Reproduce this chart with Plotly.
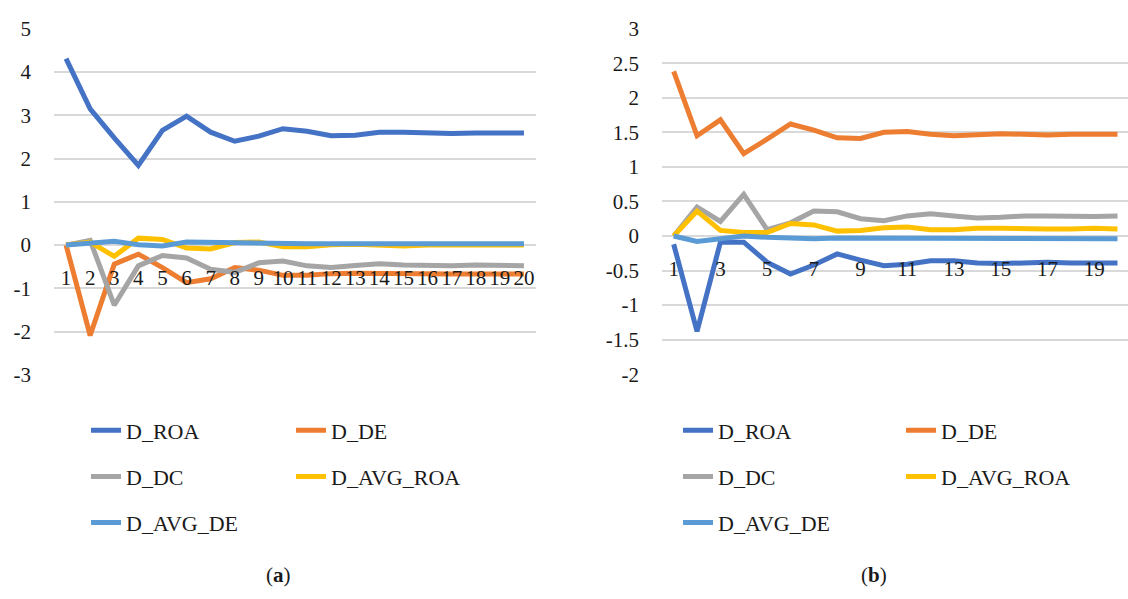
import plotly.graph_objects as go

W, H = 1128, 599

periods = list(range(1, 21))
xlabels_a = [str(p) for p in periods]
xvals_b = [p for p in periods if p % 2 == 1]
xlabels_b = [str(p) for p in xvals_b]

yvals_a = [-3, -2, -1, 0, 1, 2, 3, 4, 5]
ylabels_a = ["-3", "-2", "-1", "0", "1", "2", "3", "4", "5"]
yvals_b = [-2, -1.5, -1, -0.5, 0, 0.5, 1, 1.5, 2, 2.5, 3]
ylabels_b = ["-2", "-1.5", "-1", "-0.5", "0", "0.5", "1", "1.5", "2", "2.5", "3"]

series_names = ["D_ROA", "D_DE", "D_DC", "D_AVG_ROA", "D_AVG_DE"]
colors = ["#4472C4", "#ED7D31", "#A5A5A5", "#FFC000", "#5B9BD5"]

# Panel (a)
a_roa = [4.31, 3.15, 2.48, 1.84, 2.65, 2.98, 2.61, 2.40, 2.52, 2.69,
         2.63, 2.53, 2.54, 2.61, 2.61, 2.59, 2.58, 2.59, 2.60, 2.59]
a_de = [0.0, -2.09, -0.44, -0.21, -0.52, -0.87, -0.78, -0.52, -0.58, -0.70,
        -0.70, -0.66, -0.65, -0.66, -0.67, -0.67, -0.67, -0.67, -0.67, -0.67]
a_dc = [0.0, 0.11, -1.39, -0.48, -0.24, -0.30, -0.56, -0.63, -0.41, -0.37,
        -0.48, -0.52, -0.47, -0.43, -0.46, -0.48, -0.48, -0.46, -0.47, -0.48]
a_avg_roa = [0.0, 0.07, -0.26, 0.16, 0.13, -0.07, -0.09, 0.06, 0.07, -0.04,
             -0.04, 0.01, 0.02, -0.01, -0.02, 0.0, 0.0, 0.0, 0.0, 0.0]
a_avg_de = [0.0, 0.05, 0.09, 0.01, -0.02, 0.07, 0.06, 0.04, 0.04, 0.03,
            0.03, 0.03, 0.03, 0.03, 0.03, 0.03, 0.03, 0.03, 0.03, 0.03]

# Panel (b)
b_roa = [-0.12, -1.38, -0.09, -0.09, -0.38, -0.55, -0.42, -0.26, -0.35, -0.43,
         -0.41, -0.36, -0.36, -0.39, -0.40, -0.39, -0.38, -0.39, -0.39, -0.39]
b_de = [2.38, 1.45, 1.68, 1.19, 1.40, 1.62, 1.53, 1.42, 1.41, 1.50,
        1.51, 1.47, 1.45, 1.47, 1.48, 1.47, 1.46, 1.47, 1.47, 1.47]
b_dc = [0.0, 0.42, 0.21, 0.60, 0.09, 0.19, 0.36, 0.35, 0.25, 0.22,
        0.29, 0.32, 0.29, 0.26, 0.27, 0.29, 0.29, 0.28, 0.28, 0.29]
b_avg_roa = [0.0, 0.36, 0.08, 0.05, 0.05, 0.18, 0.16, 0.07, 0.08, 0.12,
             0.13, 0.09, 0.09, 0.11, 0.11, 0.10, 0.10, 0.10, 0.11, 0.10]
b_avg_de = [0.0, -0.08, -0.04, 0.0, -0.02, -0.03, -0.04, -0.03, -0.03, -0.04,
            -0.04, -0.04, -0.04, -0.04, -0.04, -0.04, -0.04, -0.04, -0.04, -0.04]

panel_a = [a_roa, a_de, a_dc, a_avg_roa, a_avg_de]
panel_b = [b_roa, b_de, b_dc, b_avg_roa, b_avg_de]

legend_rows = [0, 0, 1, 1, 2]

TICK_FONT = dict(family="Liberation Serif", size=21, color="#1a1a1a")
LEG_FONT = dict(family="Liberation Serif", size=22, color="#1a1a1a")

fig = go.Figure()

for i, name in enumerate(series_names):
    fig.add_trace(go.Scatter(
        x=periods, y=panel_a[i], name=name, mode="lines",
        line=dict(color=colors[i], width=5),
        xaxis="x", yaxis="y",
        legend="legend" if legend_rows[i] == 0 else f"legend{legend_rows[i] + 1}",
    ))
for i, name in enumerate(series_names):
    fig.add_trace(go.Scatter(
        x=periods, y=panel_b[i], name=name, mode="lines",
        line=dict(color=colors[i], width=5),
        xaxis="x2", yaxis="y2",
        legend=f"legend{legend_rows[i] + 4}",
    ))

ydom_a = [1 - 378 / H, 1 - 17.5 / H]
ydom_b = [1 - 377.3 / H, 1 - 17.3 / H]
yr_a = [-3, 5]
yr_b = [-2, 3]


def zero_pos(dom, rng):
    return dom[0] + (0 - rng[0]) / (rng[1] - rng[0]) * (dom[1] - dom[0])


grid = dict(showgrid=True, gridcolor="#D9D9D9", gridwidth=1.5, zeroline=False,
            showline=False, ticks="", tickfont=TICK_FONT, ticklabelstandoff=22)
xcommon = dict(anchor="free", tickmode="array", showgrid=False, zeroline=False,
               showline=False, ticks="", tickfont=TICK_FONT, tickangle=0,
               ticklabelstandoff=18)

fig.update_layout(
    width=W, height=H,
    margin=dict(l=0, r=0, t=0, b=0),
    paper_bgcolor="white", plot_bgcolor="white",
    showlegend=True,
    xaxis=dict(domain=[54 / W, 536 / W], range=[0.5, 20.5],
               position=zero_pos(ydom_a, yr_a),
               tickvals=periods, ticktext=xlabels_a, **xcommon),
    yaxis=dict(domain=ydom_a, range=yr_a, anchor="x", tickmode="array",
               tickvals=yvals_a, ticktext=ylabels_a, **grid),
    xaxis2=dict(domain=[662 / W, 1.0], range=[0.5, 20.45],
                position=zero_pos(ydom_b, yr_b),
                tickvals=xvals_b, ticktext=xlabels_b, **xcommon),
    yaxis2=dict(domain=ydom_b, range=yr_b, anchor="x2", tickmode="array",
                tickvals=yvals_b, ticktext=ylabels_b, **grid),
)

row_y = [436, 484, 532]
leg_common = dict(orientation="h", xanchor="left", yanchor="middle",
                  entrywidthmode="pixels", font=LEG_FONT,
                  bgcolor="rgba(0,0,0,0)", itemwidth=30, tracegroupgap=0)
for r in range(3):
    key_a = "legend" if r == 0 else f"legend{r + 1}"
    key_b = f"legend{r + 4}"
    fig.update_layout({
        key_a: dict(x=86 / W, y=1 - row_y[r] / H, entrywidth=160, **leg_common),
        key_b: dict(x=678 / W, y=1 - row_y[r] / H, entrywidth=178, **leg_common),
    })

captions = ["(<b>a</b>)", "(<b>b</b>)"]
caption_x = [278, 874]
for c, cx in zip(captions, caption_x):
    fig.add_annotation(text=c, x=cx / W, y=1 - 587 / H, xref="paper", yref="paper",
                       showarrow=False, xanchor="center", yanchor="middle",
                       font=dict(family="Liberation Serif", size=21, color="#1a1a1a"))

fig.write_html("out.html")
